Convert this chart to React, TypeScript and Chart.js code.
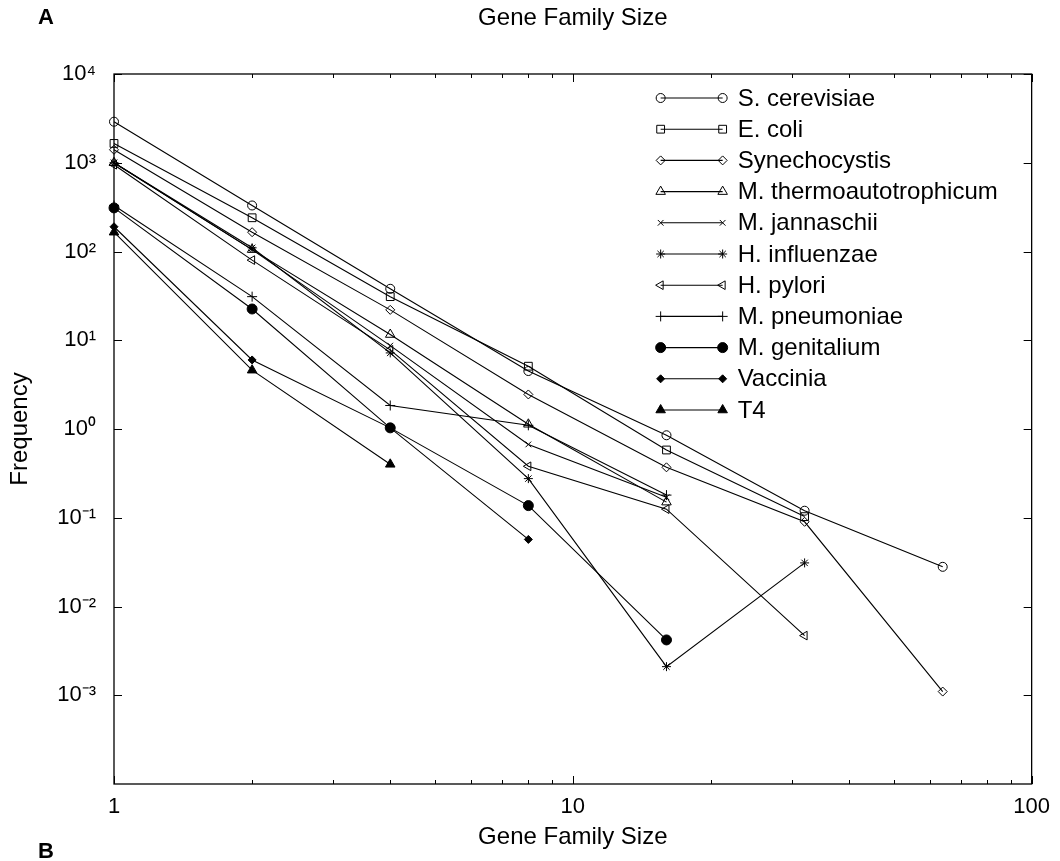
import { useEffect, useRef } from 'react';
import { Chart, registerables } from 'chart.js';
import { drawPoint } from 'chart.js/helpers';

Chart.register(...registerables);

// ---- data -------------------------------------------------------------
const familySizes = [1, 2, 4, 8, 16, 32, 64];

const sCerevisiae = [2900, 330, 38, 4.5, 0.85, 0.12, 0.028];
const eColi = [1650, 240, 31, 5.1, 0.58, 0.103];
const synechocystis = [1400, 165, 22, 2.45, 0.37, 0.09, 0.0011];
const mThermoautotrophicum = [1000, 105, 11.6, 1.13, 0.15];
const mJannaschii = [1000, 105, 8.7, 0.67, 0.17];
const hInfluenzae = [1000, 110, 7.2, 0.276, 0.0021, 0.031];
const hPylori = [950, 80, 7.8, 0.38, 0.125, 0.0047];
const mPneumoniae = [330, 31, 1.84, 1.1, 0.18];
const mGenitalium = [310, 22.5, 1.03, 0.137, 0.0042];
const vaccinia = [190, 6.0, 1.03, 0.057];
const t4 = [165, 4.6, 0.4];

const seriesNames = [
  'S. cerevisiae',
  'E. coli',
  'Synechocystis',
  'M. thermoautotrophicum',
  'M. jannaschii',
  'H. influenzae',
  'H. pylori',
  'M. pneumoniae',
  'M. genitalium',
  'Vaccinia',
  'T4',
];
const seriesValues = [
  sCerevisiae, eColi, synechocystis, mThermoautotrophicum, mJannaschii,
  hInfluenzae, hPylori, mPneumoniae, mGenitalium, vaccinia, t4,
];

const xTickValues = [1, 10, 100];
const xTickLabels = ['1', '10', '100'];
const xMinorTickValues = [2, 3, 4, 5, 6, 7, 8, 9, 20, 30, 40, 50, 60, 70, 80, 90];
const yTickValues = [1e4, 1e3, 1e2, 1e1, 1e0, 1e-1, 1e-2, 1e-3];
const yTickLabels = ['10⁴', '10³', '10²', '10¹', '10⁰', '10⁻¹', '10⁻²', '10⁻³'];

// ---- styles ----------------------------------------------------------------
type MarkerStyle = { style: string; rotation: number; radius: number; filled: boolean };
const markerStyles: MarkerStyle[] = [
  { style: 'circle', rotation: 0, radius: 4.5, filled: false },
  { style: 'rect', rotation: 0, radius: 5.5, filled: false },
  { style: 'rectRot', rotation: 0, radius: 4.5, filled: false },
  { style: 'triangle', rotation: 0, radius: 5.5, filled: false },
  { style: 'crossRot', rotation: 0, radius: 4, filled: false },
  { style: 'star', rotation: 0, radius: 4.5, filled: false },
  { style: 'triangle', rotation: -90, radius: 5, filled: false },
  { style: 'cross', rotation: 0, radius: 5, filled: false },
  { style: 'circle', rotation: 0, radius: 5, filled: true },
  { style: 'rectRot', rotation: 0, radius: 4, filled: true },
  { style: 'triangle', rotation: 0, radius: 5.5, filled: true },
];

const FONT = '"Liberation Sans", Arial, Helvetica, sans-serif';
const W = 1060;
const H = 861;

const framePlugin = {
  id: 'frame',
  afterDraw(chart: any) {
    const { ctx, chartArea } = chart;
    const xs = chart.scales.x;
    const ys = chart.scales.y;
    const { left, right, top, bottom } = chartArea;
    ctx.save();
    ctx.strokeStyle = '#000';
    ctx.lineWidth = 1.3;
    ctx.strokeRect(left, top, right - left, bottom - top);
    ctx.lineWidth = 1;
    ctx.beginPath();
    const major = 8;
    const minor = 4;
    xTickValues.forEach((v) => {
      const px = Math.round(xs.getPixelForValue(v)) + 0.5;
      ctx.moveTo(px, bottom); ctx.lineTo(px, bottom - major);
      ctx.moveTo(px, top); ctx.lineTo(px, top + major);
    });
    xMinorTickValues.forEach((v) => {
      const px = Math.round(xs.getPixelForValue(v)) + 0.5;
      ctx.moveTo(px, bottom); ctx.lineTo(px, bottom - minor);
      ctx.moveTo(px, top); ctx.lineTo(px, top + minor);
    });
    yTickValues.forEach((v) => {
      const py = Math.round(ys.getPixelForValue(v)) + 0.5;
      ctx.moveTo(left, py); ctx.lineTo(left + major, py);
      ctx.moveTo(right, py); ctx.lineTo(right - major, py);
    });
    ctx.stroke();

    // panel letters and top title
    ctx.fillStyle = '#000';
    ctx.textBaseline = 'middle';
    ctx.textAlign = 'left';
    ctx.font = `bold 22px ${FONT}`;
    ctx.fillText('A', 38, 18);
    ctx.fillText('B', 38, 852);
    ctx.textAlign = 'center';
    ctx.font = `24px ${FONT}`;
    ctx.fillText('Gene Family Size', (left + right) / 2, 18);

    // legend
    const lx0 = right - 371;
    const lx1 = right - 309;
    const ltx = right - 294;
    const ly0 = top + 24;
    const lstep = 31.2;
    ctx.textAlign = 'left';
    ctx.font = `24px ${FONT}`;
    seriesNames.forEach((name, i) => {
      const y = ly0 + i * lstep;
      const st = markerStyles[i];
      ctx.strokeStyle = '#000';
      ctx.lineWidth = 1.1;
      ctx.beginPath();
      ctx.moveTo(lx0, y);
      ctx.lineTo(lx1, y);
      ctx.stroke();
      ctx.lineWidth = 1;
      ctx.fillStyle = st.filled ? '#000' : 'rgba(0,0,0,0)';
      const opts = { pointStyle: st.style, rotation: st.rotation, radius: st.radius, borderWidth: 1 };
      drawPoint(ctx, opts as any, lx0, y);
      drawPoint(ctx, opts as any, lx1, y);
      ctx.fillStyle = '#000';
      ctx.fillText(name, ltx, y + 1);
    });
    ctx.restore();
  },
};

export default function App() {
  const ref = useRef<HTMLCanvasElement | null>(null);
  useEffect(() => {
    if (!ref.current) return;
    const datasets = seriesValues.map((vals, i) => {
      const st = markerStyles[i];
      return {
        label: seriesNames[i],
        data: vals.map((v, j) => ({ x: familySizes[j], y: v })),
        borderColor: '#000',
        borderWidth: 1.1,
        pointStyle: st.style,
        pointRotation: st.rotation,
        pointRadius: st.radius,
        pointBackgroundColor: st.filled ? '#000' : 'rgba(0,0,0,0)',
        pointBorderColor: '#000',
        pointBorderWidth: 1,
        tension: 0,
        fill: false,
        clip: false,
      };
    });
    const tickFont = { family: FONT, size: 22 };
    const chart = new Chart(ref.current, {
      type: 'line',
      data: { datasets: datasets as any },
      plugins: [framePlugin],
      options: {
        responsive: false,
        animation: false,
        events: [],
        layout: { padding: { top: 74, right: 26, left: 0, bottom: 0 } },
        plugins: { legend: { display: false }, tooltip: { enabled: false }, title: { display: false } },
        scales: {
          x: {
            type: 'logarithmic',
            min: 1,
            max: 100,
            afterBuildTicks: (s: any) => { s.ticks = xTickValues.map((v) => ({ value: v })); },
            afterFit: (s: any) => { s.height = 77; },
            ticks: {
              autoSkip: false,
              maxRotation: 0,
              color: '#000',
              font: tickFont,
              padding: 10,
              callback: (v: any) => {
                const k = xTickValues.indexOf(Number(v));
                return k >= 0 ? xTickLabels[k] : '';
              },
            },
            grid: { display: false, drawTicks: false },
            border: { display: false },
            title: {
              display: true,
              text: 'Gene Family Size',
              color: '#000',
              font: { family: FONT, size: 24 },
              padding: { top: 0, bottom: 9 },
            },
          },
          y: {
            type: 'logarithmic',
            min: 1e-4,
            max: 1e4,
            afterBuildTicks: (s: any) => { s.ticks = yTickValues.map((v) => ({ value: v })); },
            afterFit: (s: any) => { s.width = 114; },
            ticks: {
              autoSkip: false,
              color: '#000',
              font: tickFont,
              padding: 18,
              callback: (v: any) => {
                const k = yTickValues.findIndex((t) => Math.abs(Math.log10(t) - Math.log10(Number(v))) < 1e-6);
                return k >= 0 ? yTickLabels[k] : '';
              },
            },
            grid: { display: false, drawTicks: false },
            border: { display: false },
            title: {
              display: true,
              text: 'Frequency',
              color: '#000',
              font: { family: FONT, size: 24 },
              padding: { top: 6, bottom: 0 },
            },
          },
        },
      } as any,
    });
    return () => chart.destroy();
  }, []);
  return (
    <div style={{ position: 'absolute', left: 0, top: 0, width: W, height: H, background: '#fff' }}>
      <canvas ref={ref} width={W} height={H} style={{ display: 'block', width: W, height: H }} />
    </div>
  );
}
